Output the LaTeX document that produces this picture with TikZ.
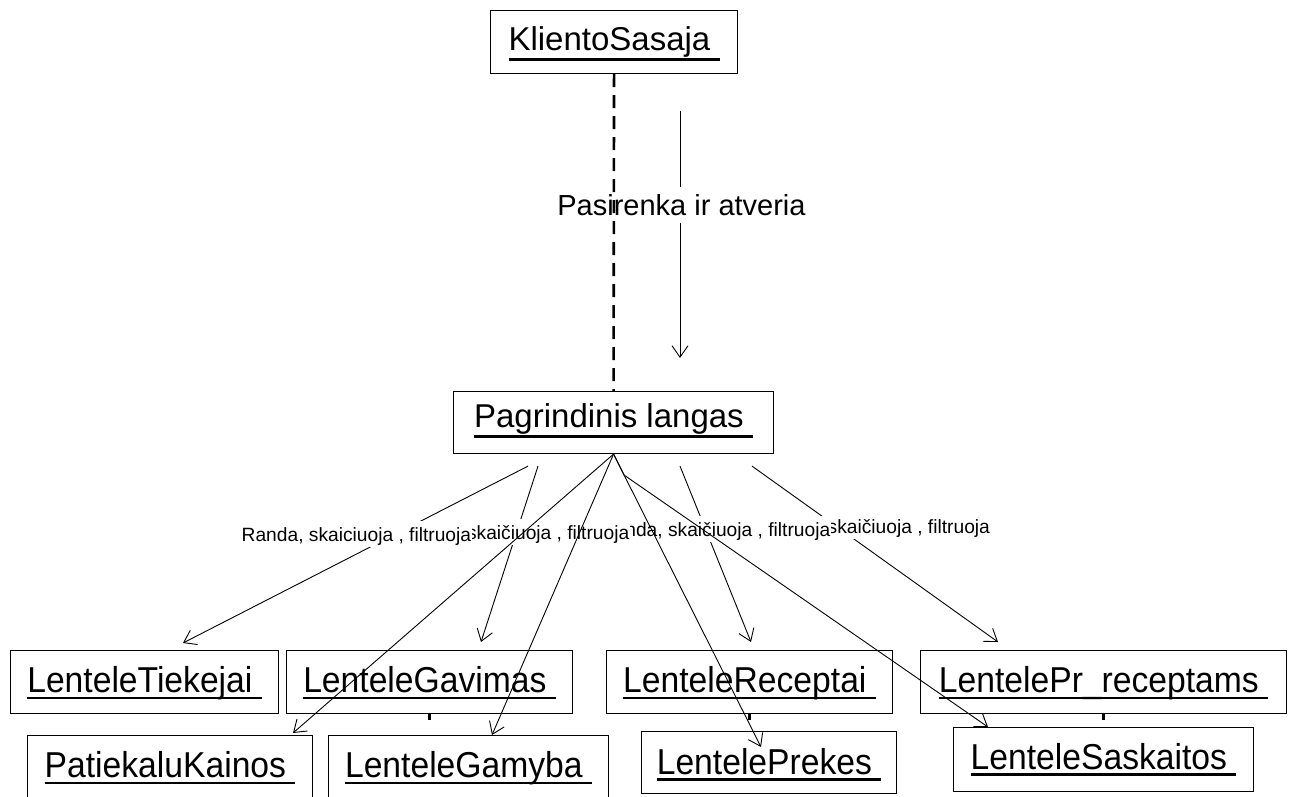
\documentclass[tikz,border=0pt]{standalone}
\usepackage{fontspec}
\setmainfont{Liberation Sans}
\newfontfamily\narrowsans[FakeStretch=0.935]{Liberation Sans}
\usetikzlibrary{arrows.meta,calc}

% underlined name with a trailing space: #1 rule depth, #2 rule thickness
\newsavebox\ulbox
\newcommand\utext[3]{\sbox\ulbox{#3\ }\rlap{\rule[-#1]{\wd\ulbox}{#2}}\usebox\ulbox}
\newcommand\topname[1]{\utext{10pt}{2.5pt}{#1}}
\newcommand\tabname[1]{\utext{6.6pt}{2.3pt}{#1}}

\begin{document}
\begin{tikzpicture}[x=1pt,y=-1pt,
  box/.style={draw=black, line width=1.1pt, inner sep=0pt, anchor=north west},
  topbox/.style={box, font=\fontsize{33}{38}\selectfont, text height=24pt},
  tablebox/.style={box, font=\fontsize{36}{40}\narrowsans, text height=26pt, text depth=5pt},
  link/.style={line width=0.9pt, -{Straight Barb[length=11.5pt,width=16pt]}},
  msg/.style={fill=white, inner xsep=0.5pt, inner ysep=2.3pt,
    font=\fontsize{19.2}{23}\selectfont, text height=17.4pt, text depth=4.07pt},
  lifeline/.style={line width=2.6pt, dash pattern=on 13pt off 8pt},
  tick/.style={line width=2.6pt}]
\useasboundingbox (0,0) rectangle (1293,796);
\clip (0,0) rectangle (1293,796);

% objects
\node[topbox, minimum width=247pt, minimum height=63pt, text depth=7pt] (client) at (490,10) {\topname{KlientoSasaja}};
\node[topbox, minimum width=320pt, minimum height=62pt, text depth=14pt] (main) at (453,391) {\topname{Pagrindinis langas}};

\node[tablebox, minimum width=268pt, minimum height=63pt] (tiek) at (10,650) {\tabname{LenteleTiekejai}};
\node[tablebox, minimum width=286pt, minimum height=63pt] (gav) at (286,650) {\tabname{LenteleGavimas}};
\node[tablebox, minimum width=286pt, minimum height=63pt] (rec) at (606,650) {\tabname{LenteleReceptai}};
\node[tablebox, minimum width=366pt, minimum height=63pt] (prr) at (920,650) {\tabname{LentelePr\_receptams}};
\node[tablebox, minimum width=285pt, minimum height=63pt] (pat) at (27,735) {\tabname{PatiekaluKainos}};
\node[tablebox, minimum width=280pt, minimum height=63pt] (gam) at (328,735) {\tabname{LenteleGamyba}};
\node[tablebox, minimum width=255pt, minimum height=62pt, text depth=3pt] (pre) at (641,731) {\tabname{LentelePrekes}};
\node[tablebox, minimum width=300pt, minimum height=64pt, text depth=7pt] (sas) at (953,727) {\tabname{LenteleSaskaitos}};

% short lifeline stubs
\draw[tick] (gav.south) -- ++(0,6);
\draw[tick] (rec.south) -- ++(0,6);
\draw[tick] (prr.south) -- ++(0,6);

% connector end points
\coordinate (tiekFrom) at ($(main.south west)+(75,12)$);
\coordinate (gavFrom)  at ($(main.south west)+(85,12)$);
\coordinate (recFrom)  at ($(main.south west)+(227,12)$);
\coordinate (prrFrom)  at ($(main.south west)+(299,12)$);
\coordinate (tiekTo) at ($(tiek.north west)+(173,-7)$);
\coordinate (gavTo)  at ($(gav.north west)+(195,-8)$);
\coordinate (recTo)  at ($(rec.north west)+(145,-8)$);
\coordinate (prrTo)  at ($(prr.north west)+(78,-8)$);
\coordinate (patTo)  at ($(pat.north west)+(266,-2)$);
\coordinate (gamTo)  at ($(gam.north west)+(164,0)$);
\coordinate (preTo)  at ($(pre.north west)+(120,16)$);
\coordinate (sasTo)  at ($(sas.north west)+(35,0)$);
\coordinate (sasBend) at ($(main.south)!0.0717!(preTo)$);

% labelled messages
\draw[link] (tiekFrom) -- (tiekTo);
\draw[link] (gavFrom) -- (gavTo);
\draw[link] (recFrom) -- (recTo);
\draw[link] (prrFrom) -- (prrTo);

\node[msg, anchor=base west] (lblPrr) at (827,533) {skaičiuoja , filtruoja};
\node[msg, anchor=base east] (lblRec) at (831,536) {Randa, skaičiuoja , filtruoja};
\node[msg, anchor=base east] (lblGav) at (630,539) {skaičiuoja , filtruoja};
\node[msg, anchor=base west] (lblTiek) at (241,541) {Randa, skaiciuoja , filtruoja};

% unlabelled messages
\draw[link] (main.south) -- (patTo);
\draw[link] (main.south) -- (gamTo);
\draw[link] (main.south) -- (preTo);
\draw[link] (main.south) -- (sasBend) -- (sasTo);

% client opens the main window
\coordinate (openTop) at ($(client.south west)+(190,37)$);
\coordinate (openEnd) at ($(main.north west)+(227,-33)$);
\draw[link] (openTop) -- (openEnd);
\node[msg, inner xsep=2.5pt, font=\fontsize{29}{34}\selectfont, text height=26.2pt, text depth=6.15pt, anchor=base]
  (openLbl) at (681.5,215) {Pasirenka ir atveria};
\draw[lifeline] (client.south) -- (main.north);
\end{tikzpicture}
\end{document}
